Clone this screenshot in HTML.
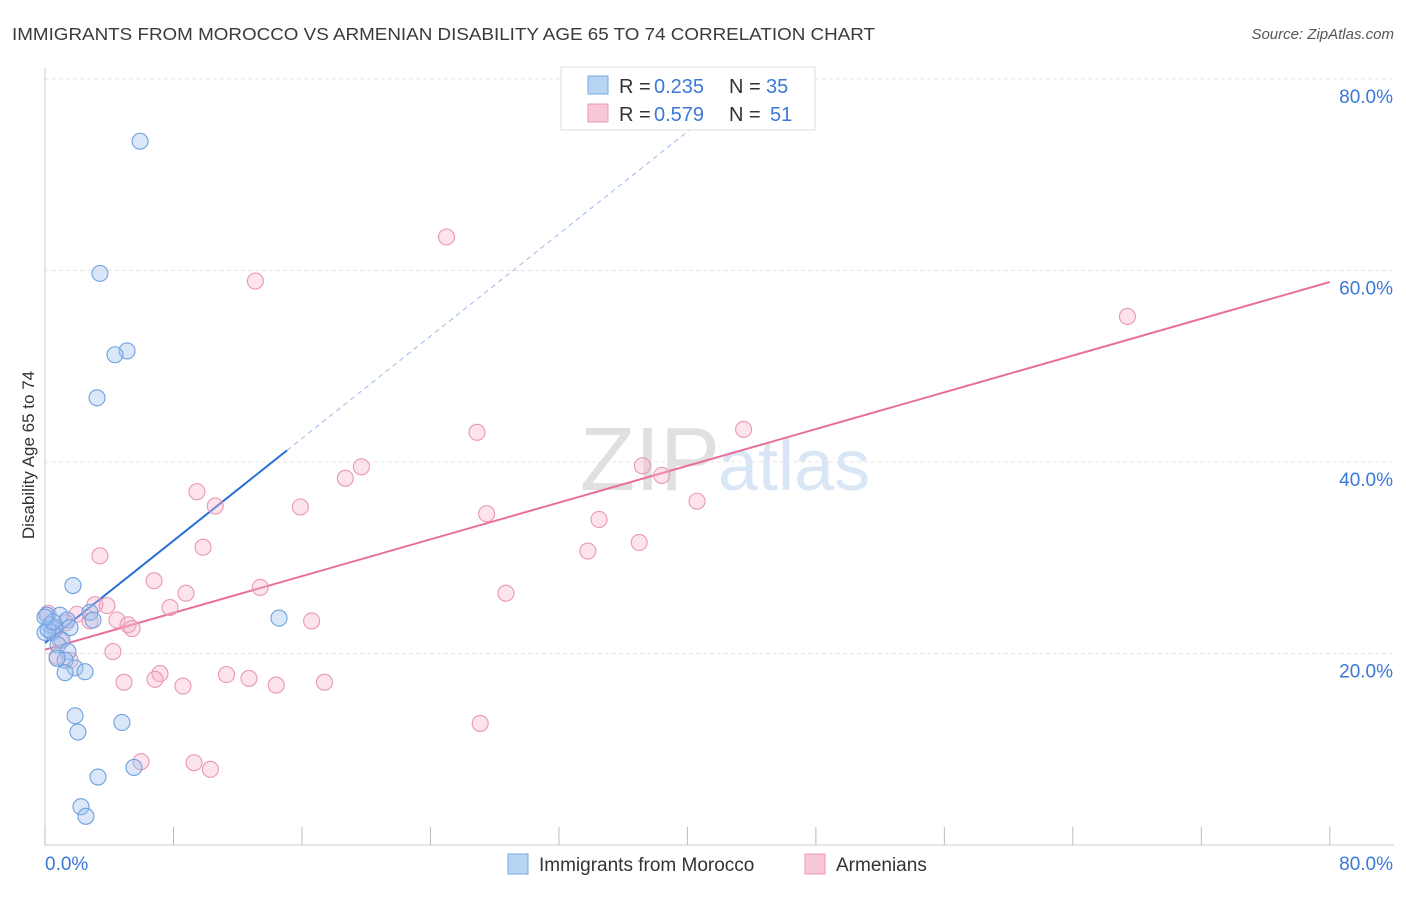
<!DOCTYPE html>
<html><head><meta charset="utf-8"><style>
body{margin:0;background:#fff;font-family:"Liberation Sans",sans-serif}
svg text{font-family:"Liberation Sans",sans-serif}
</style></head><body>
<svg width="1406" height="892">
<text x="12" y="40" font-size="17.5" fill="#3a3a3a" textLength="863" lengthAdjust="spacingAndGlyphs">IMMIGRANTS FROM MOROCCO VS ARMENIAN DISABILITY AGE 65 TO 74 CORRELATION CHART</text>
<text x="1394" y="39" font-size="15" fill="#555" font-style="italic" text-anchor="end">Source: ZipAtlas.com</text>
<text x="720" y="490" font-size="90" fill="#e0e0e0" text-anchor="end" font-family="Liberation Serif">ZIP</text>
<text x="718" y="490" font-size="72" fill="#d8e6f5">atlas</text>
<g id="grid"></g>
<g id="axes"></g>
<g id="lines"></g>
<g id="pts"></g>
<text transform="translate(34,455) rotate(-90)" font-size="17" fill="#333" text-anchor="middle">Disability Age 65 to 74</text>
<g>
<rect x="561" y="67" width="254" height="63" fill="#fff" stroke="#ddd"/>
<rect x="588" y="76" width="20" height="18" fill="#b8d4f5" stroke="#7aa8e0"/>
<rect x="588" y="104" width="20" height="18" fill="#f8c8d8" stroke="#e898b5"/>
<text y="93" font-size="20" fill="#333"><tspan x="619">R =</tspan><tspan x="654" fill="#3a78d8">0.235</tspan><tspan x="729">N =</tspan><tspan x="766" fill="#3a78d8">35</tspan></text>
<text y="121" font-size="20" fill="#333"><tspan x="619">R =</tspan><tspan x="654" fill="#3a78d8">0.579</tspan><tspan x="729">N =</tspan><tspan x="770" fill="#3a78d8">51</tspan></text>
</g>
<g>
<rect x="508" y="854" width="20" height="20" fill="#b8d4f5" stroke="#7aa8e0"/>
<text x="539" y="871" font-size="19" fill="#333">Immigrants from Morocco</text>
<rect x="805" y="854" width="20" height="20" fill="#f8c8d8" stroke="#e898b5"/>
<text x="836" y="871" font-size="19" fill="#333">Armenians</text>
</g>
</svg>
<script>
const yTicks=[20,40,60,80];
const yTickLabels=["20.0%","40.0%","60.0%","80.0%"];
const xTicks=[0,8,16,24,32,40,48,56,64,72,80];
const blueX=[5.92,3.42,5.11,4.36,3.24,1.74,2.80,2.99,14.57,0.12,0.93,1.37,0.31,0.62,1.56,0.0,0.44,1.06,0.81,1.43,1.25,0.75,1.87,2.49,1.25,1.87,4.79,2.05,3.30,5.54,2.24,2.55,0.19,0.5,0.0];
const blueY=[73.5,59.7,51.6,51.2,46.7,27.1,24.3,23.5,23.7,24.0,24.0,23.5,23.0,22.7,22.7,22.2,22.2,21.4,20.9,20.2,19.3,19.5,18.5,18.1,18.0,13.5,12.8,11.8,7.1,8.1,4.0,3.0,22.5,23.3,23.8];
const pinkX=[25.0,13.1,67.4,26.9,43.5,19.7,18.7,37.2,38.4,9.46,10.6,15.9,40.6,27.5,34.5,37.0,33.8,9.84,3.42,6.79,8.78,13.4,28.7,7.78,3.11,3.86,1.99,4.48,5.17,5.42,16.6,2.80,0.19,0.62,1.56,4.23,0.75,4.92,7.16,6.85,8.59,11.3,12.7,14.4,17.4,27.1,5.98,9.28,10.3,1.31,0.93];
const pinkY=[63.5,58.9,55.2,43.1,43.4,39.5,38.3,39.6,38.6,36.9,35.4,35.3,35.9,34.6,34.0,31.6,30.7,31.1,30.2,27.6,26.3,26.9,26.3,24.8,25.1,25.0,24.1,23.5,23.0,22.6,23.4,23.4,24.2,22.5,19.3,20.2,19.7,17.0,17.9,17.3,16.6,17.8,17.4,16.7,17.0,12.7,8.7,8.6,7.9,23.2,21.4];
const blueTrend=[21.1,1.335];
const pinkTrend=[20.4,0.48];
const NS="http://www.w3.org/2000/svg";
const sx=v=>45+v*16.06, sy=v=>845-v*9.575;
function mk(p,t,a){const e=document.createElementNS(NS,t);for(const k in a)e.setAttribute(k,a[k]);document.getElementById(p).appendChild(e);return e;}
yTicks.forEach((t,i)=>{
 const g=mk('grid','line',{x1:45,x2:1394,y1:sy(t),y2:sy(t),stroke:'#e4e4e4','stroke-dasharray':'4,3'});
 
 
 const l=mk('axes','text',{x:1393,y:sy(t)+24,'font-size':19,fill:'#3a78d8','text-anchor':'end'});l.textContent=yTickLabels[i];
 
 
});
const ax=mk('axes','line',{x1:45,x2:1394,y1:845,y2:845,stroke:'#ccc'});


const ay=mk('axes','line',{x1:45,x2:45,y1:68,y2:845,stroke:'#ccc'});


xTicks.forEach(t=>{const k=mk('axes','line',{x1:sx(t),x2:sx(t),y1:827,y2:845,stroke:'#bbb'});
 
 });
const x0=mk('axes','text',{x:45,y:870,'font-size':19,fill:'#3a78d8'});x0.textContent='0.0%';


const x1=mk('axes','text',{x:1393,y:870,'font-size':19,fill:'#3a78d8','text-anchor':'end'});x1.textContent='80.0%';


pinkX.forEach((x,i)=>{const c=mk('pts','circle',{cx:sx(x),cy:sy(pinkY[i]),r:8,fill:'rgba(245,175,200,0.35)',stroke:'#e898b5','stroke-width':1.1});
 
 });
blueX.forEach((x,i)=>{const c=mk('pts','circle',{cx:sx(x),cy:sy(blueY[i]),r:8,fill:'rgba(160,195,240,0.4)',stroke:'#6fa0e0','stroke-width':1.1});
 
 });
const bEnd=15.07, bDash=42.5;
const bl=mk('lines','line',{x1:sx(0),y1:sy(blueTrend[0]),x2:sx(bEnd),y2:sy(blueTrend[0]+blueTrend[1]*bEnd),stroke:'#2a6fd6','stroke-width':2});


const bd=mk('lines','line',{x1:sx(bEnd),y1:sy(blueTrend[0]+blueTrend[1]*bEnd),x2:sx(bDash),y2:sy(blueTrend[0]+blueTrend[1]*bDash),stroke:'#9bbbe8','stroke-width':1,'stroke-dasharray':'5,4'});


const pl=mk('lines','line',{x1:sx(0),y1:sy(pinkTrend[0]),x2:sx(80),y2:sy(pinkTrend[0]+pinkTrend[1]*80),stroke:'#e8709a','stroke-width':2});


</script>
</body></html>
